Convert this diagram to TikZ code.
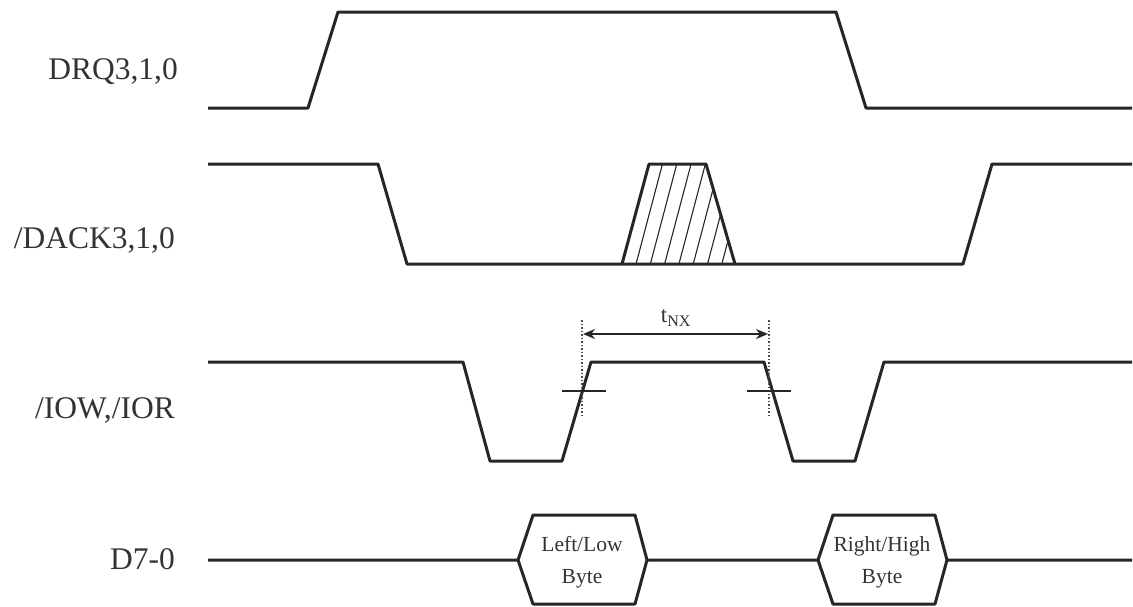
\documentclass[tikz,border=0pt]{standalone}
\usepackage{fontspec}
\setmainfont{Liberation Serif}
\usetikzlibrary{arrows.meta}
\begin{document}
\begin{tikzpicture}[x=1pt,y=-1pt,
  sig/.style={line width=3pt,line join=round,draw=black!85},
  hatchline/.style={line width=1.1pt,draw=black!85},
  siglabel/.style={anchor=east,font=\fontsize{31.5}{36}\selectfont,text=black!80,inner sep=0pt},
  bytelabel/.style={align=center,font=\fontsize{21.5}{32}\selectfont,text=black!80,inner sep=0pt},
  guide/.style={line width=1.5pt,dotted,draw=black!70},
  tick/.style={line width=1.1pt,draw=black!85},
  dim/.style={line width=1.6pt,draw=black!85,{Stealth[length=12pt,width=10pt]}-{Stealth[length=12pt,width=10pt]}}]
\useasboundingbox (0,0) rectangle (1133,606);
% labels
\node[siglabel] (ldrq) at (178,72) {DRQ3,1,0};
\node[siglabel] (ldack) at (175,240) {/DACK3,1,0};
\node[siglabel] (liow) at (175,410) {/IOW,/IOR};
\node[siglabel] (ld) at (175,559) {D7-0};
% DRQ
\draw[sig] (208,108) -- (308,108) -- (338,12) -- (836,12) -- (866,108) -- (1132,108);
% DACK
\draw[sig] (208,164) -- (378,164) -- (407,264) -- (963,264) -- (992,164) -- (1132,164);
% hatched region
\begin{scope}
\clip (622,264) -- (649,164) -- (706,164) -- (735,264) -- cycle;
\foreach \xx in {635.5,649.8,664.1,678.4,692.7,707,721.3}
  \draw[hatchline] (\xx,266) -- ({\xx+27.5},162);
\end{scope}
\draw[sig] (622,264) -- (649,164) -- (706,164) -- (735,264);
% IOW/IOR
\draw[sig] (208,362) -- (463,362) -- (490,461) -- (562,461) -- (591,362) -- (764,362) -- (793,461) -- (855,461) -- (884,362) -- (1132,362);
% guides
\coordinate (g1t) at (582,320);
\coordinate (g1b) at (582,418);
\coordinate (g2t) at (769,320);
\coordinate (g2b) at (769,418);
\draw[guide] (g1t) -- (g1b);
\draw[guide] (g2t) -- (g2b);
\coordinate (a1) at (583,334);
\coordinate (a2) at (768,334);
\draw[dim] (a1) -- (a2);
\node[font=\fontsize{23}{26}\selectfont,text=black!80,inner sep=0pt] (tnx) at (676,318) {t\textsubscript{NX}};
\coordinate (t1a) at (562,391);
\coordinate (t1b) at (606,391);
\coordinate (t2a) at (747,391);
\coordinate (t2b) at (791,391);
\draw[tick] (t1a) -- (t1b);
\draw[tick] (t2a) -- (t2b);
% D7-0
\draw[sig] (208,560) -- (518,560) -- (533,515) -- (635,515) -- (647,560) -- (818,560) -- (833,515) -- (935,515) -- (947,560) -- (1132,560);
\draw[sig] (518,560) -- (533,604) -- (635,604) -- (647,560);
\draw[sig] (818,560) -- (833,604) -- (935,604) -- (947,560);
\node[bytelabel] (b1) at (582,562) {Left/Low\\Byte};
\node[bytelabel] (b2) at (882,562) {Right/High\\Byte};
\end{tikzpicture}
\end{document}
